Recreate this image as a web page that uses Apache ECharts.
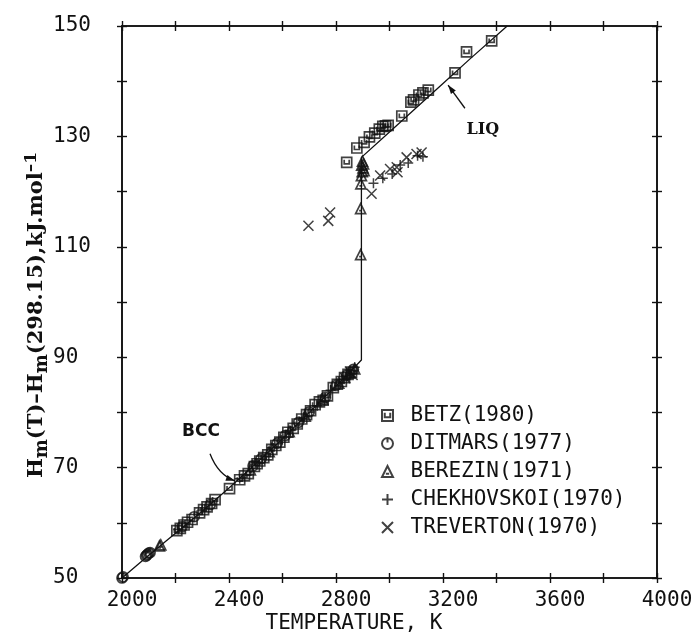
<!DOCTYPE html>
<html>
<head>
<meta charset="utf-8">
<script src="https://cdn.jsdelivr.net/npm/echarts@6/dist/echarts.min.js"></script>
<style>
  html, body { margin: 0; padding: 0; background: #fff; }
  #chart { width: 696px; height: 644px; }
</style>
</head>
<body>
<div id="chart"></div>
<script>
// Enthalpy increment of molybdenum, H(T) - H(298.15), kJ/mol, versus temperature (K)

const xTickLabels = [2000, 2400, 2800, 3200, 3600, 4000];
const yTickLabels = [50, 70, 90, 110, 130, 150];

// Assessed curve: bcc solid, melting step, liquid
const assessedCurve = [
  [2000, 50.0], [2100, 54.1], [2200, 58.1], [2300, 62.1], [2400, 66.3],
  [2500, 70.7], [2600, 75.2], [2700, 80.0], [2800, 84.8], [2850, 87.2],
  [2895, 89.5], [2895, 126.2], [3000, 130.8], [3100, 135.2], [3200, 139.6],
  [3300, 144.0], [3440, 150.0]
];

const betzData = [
  [2205, 58.6], [2218, 59.0], [2232, 59.6], [2245, 60.1], [2262, 60.6],
  [2290, 61.8], [2305, 62.4], [2318, 62.9], [2335, 63.5], [2348, 64.2],
  [2402, 66.2], [2440, 67.8], [2458, 68.5], [2472, 68.9], [2495, 70.2],
  [2505, 70.7], [2515, 71.2], [2530, 71.8], [2545, 72.3], [2560, 73.3],
  [2575, 74.0], [2590, 74.6], [2605, 75.5], [2620, 76.4], [2640, 77.1],
  [2655, 77.9], [2672, 78.8], [2690, 79.6], [2705, 80.3], [2722, 81.4],
  [2738, 81.9], [2752, 82.2], [2768, 83.0], [2790, 84.5], [2805, 85.1],
  [2820, 85.6], [2832, 86.3], [2845, 86.9], [2858, 87.3],
  [2840, 125.3], [2878, 127.9], [2905, 128.9], [2925, 129.9], [2945, 130.6],
  [2962, 131.3], [2975, 131.8], [2985, 131.9], [2995, 132.0], [3046, 133.7],
  [3080, 136.2], [3090, 136.6], [3110, 137.5], [3125, 137.9], [3145, 138.4],
  [3245, 141.5], [3288, 145.3], [3382, 147.3]
];

const ditmarsData = [
  [1998, 49.9], [2000, 50.0], [2004, 50.2], [2088, 53.9], [2092, 54.1],
  [2095, 54.3], [2100, 54.5], [2105, 54.6], [2225, 59.3], [2270, 61.1],
  [2330, 63.3], [2490, 70.3], [2520, 71.6], [2580, 74.4], [2610, 75.8],
  [2660, 78.2], [2700, 80.1], [2760, 82.7], [2800, 84.9], [2840, 86.7],
  [2865, 87.8]
];

const berezinData = [
  [2140, 55.8], [2145, 56.0], [2480, 69.6], [2550, 72.9], [2625, 76.5],
  [2685, 79.3], [2750, 82.4], [2810, 85.3], [2850, 87.1], [2870, 87.9],
  [2892, 108.6], [2892, 116.9], [2893, 121.4], [2895, 122.9], [2898, 123.6],
  [2901, 124.3], [2903, 125.0], [2896, 124.8], [2905, 123.8], [2899, 125.5]
];

const chekhovskoiData = [
  [2210, 58.8], [2300, 62.3], [2440, 68.0], [2500, 70.9], [2560, 73.6],
  [2630, 76.7], [2680, 79.0], [2730, 81.2], [2780, 84.0], [2830, 86.0],
  [2855, 87.6], [2870, 88.2], [2940, 121.5], [2975, 122.4], [3010, 123.2],
  [3040, 124.8], [3070, 125.2], [3105, 126.5], [3125, 126.3]
];

const trevertonData = [
  [2697, 113.8], [2771, 114.7], [2778, 116.2], [2933, 119.6], [2965, 122.9],
  [3002, 124.1], [3027, 124.4], [3030, 123.5], [3064, 126.2], [3101, 126.8],
  [3120, 127.1], [2835, 86.2], [2852, 87.4], [2862, 86.8]
];

const seriesNames = ['BETZ(1980)', 'DITMARS(1977)', 'BEREZIN(1971)', 'CHEKHOVSKOI(1970)', 'TREVERTON(1970)'];

const INK = '#111';
const MONO = '"DejaVu Sans Mono", monospace';
const SERIF = '"DejaVu Serif", serif';

const SYM = {
  square: 'path://M0,0H10V10H0Z M2.5,2.5V6.5H7.5V2.5',
  circle: 'path://M5,0A5,5 0 1,1 4.99,0Z M5,0V4',
  triangle: 'path://M5,0L10,10H0Z M3.5,7H6.5',
  plus: 'path://M5,0V10M0,5H10',
  cross: 'path://M0,0L10,10M10,0L0,10'
};

function xAxisDef(position, inside, labels) {
  return {
    type: 'value', position, min: 2000, max: 4000, interval: 200,
    axisLine: { show: true, onZero: false, lineStyle: { color: INK, width: 1.6 } },
    axisTick: { show: true, inside, length: 5, lineStyle: { color: INK, width: 1.4 } },
    axisLabel: {
      show: labels, margin: 12, color: INK, fontFamily: MONO, fontSize: 21,
      padding: [0, 0, 0, 20],
      formatter: v => (xTickLabels.includes(v) ? String(v) : '')
    },
    splitLine: { show: false }
  };
}

function yAxisDef(position, inside, labels) {
  return {
    type: 'value', position, min: 50, max: 150, interval: 10,
    axisLine: { show: true, onZero: false, lineStyle: { color: INK, width: 1.6 } },
    axisTick: { show: true, inside, length: 5, lineStyle: { color: INK, width: 1.4 } },
    axisLabel: {
      show: labels, margin: 69, align: 'left', color: INK, fontFamily: MONO, fontSize: 21,
      padding: [0, 0, 8, 0],
      formatter: v => (yTickLabels.includes(v) ? String(v) : '')
    },
    splitLine: { show: false }
  };
}

function scatterSeries(name, data, symbol, size, width) {
  return {
    type: 'scatter', name, data, symbol, symbolSize: size,
    itemStyle: { color: 'rgba(0,0,0,0)', borderColor: INK, borderWidth: width },
    xAxisIndex: 0, yAxisIndex: 0, z: 3, silent: true
  };
}

const chart = echarts.init(document.getElementById('chart'));

chart.setOption({
  animation: false,
  backgroundColor: '#fff',
  grid: { left: 122, right: 39, top: 26, bottom: 66 },
  xAxis: [
    xAxisDef('bottom', false, true),
    xAxisDef('bottom', true, false),
    xAxisDef('top', false, false),
    xAxisDef('top', true, false)
  ],
  yAxis: [
    yAxisDef('left', false, true),
    yAxisDef('left', true, false),
    yAxisDef('right', false, false),
    yAxisDef('right', true, false)
  ],
  legend: {
    orient: 'vertical', left: 376, top: 400,
    itemWidth: 12, itemHeight: 11, itemGap: 7,
    textStyle: { fontFamily: MONO, fontSize: 21, color: INK, lineHeight: 21, padding: [0, 0, 0, 12] },
    data: seriesNames
  },
  series: [
    {
      type: 'line', data: assessedCurve, symbol: 'none', silent: true,
      lineStyle: { color: INK, width: 1.3 }, z: 2
    },
    scatterSeries(seriesNames[0], betzData, SYM.square, 10, 1.7),
    scatterSeries(seriesNames[1], ditmarsData, SYM.circle, 10, 1.7),
    scatterSeries(seriesNames[2], berezinData, SYM.triangle, 10, 1.7),
    scatterSeries(seriesNames[3], chekhovskoiData, SYM.plus, 10, 1.5),
    scatterSeries(seriesNames[4], trevertonData, SYM.cross, 10, 1.5)
  ]
});

// Labels and pointer arrows, positioned in data space
const px = p => chart.convertToPixel({ gridIndex: 0 }, p);

function arrowHead(tip, from, len, half) {
  const dx = tip[0] - from[0], dy = tip[1] - from[1];
  const d = Math.hypot(dx, dy) || 1;
  const ux = dx / d, uy = dy / d;
  const bx = tip[0] - ux * len, by = tip[1] - uy * len;
  return {
    type: 'polygon', silent: true, z: 10,
    shape: { points: [tip, [bx - uy * half, by + ux * half], [bx + uy * half, by - ux * half]] },
    style: { fill: INK }
  };
}

const liqTail = px([3282, 135.1]), liqTip = px([3219, 139.3]);
const bccTail = px([2329, 72.5]), bccTip = px([2422, 67.6]);
const bccCtrl = [bccTail[0] + 8, bccTip[1] - 6];
const liqText = px([3349, 131.1]);
const bccText = px([2295, 76.5]);

chart.setOption({
  graphic: [
    {
      type: 'text', silent: true, x: 37, y: 315, rotation: Math.PI / 2,
      style: {
        text: '{a|H}{s|m}{a|(T)–H}{s|m}{a|(298.15),kJ.mol}{p|–1}',
        align: 'center', verticalAlign: 'middle', fill: INK,
        rich: {
          a: { fontFamily: SERIF, fontWeight: 'bold', fontSize: 21, lineHeight: 28, fill: INK },
          s: { fontFamily: SERIF, fontWeight: 'bold', fontSize: 18, lineHeight: 18, verticalAlign: 'bottom', fill: INK },
          p: { fontFamily: SERIF, fontWeight: 'bold', fontSize: 17, lineHeight: 17, verticalAlign: 'top', fill: INK }
        }
      }
    },
    {
      type: 'text', silent: true, x: 354, y: 624,
      style: { text: 'TEMPERATURE, K', align: 'center', verticalAlign: 'middle', fill: INK, font: '21px ' + MONO }
    },
    {
      type: 'text', silent: true, x: liqText[0], y: liqText[1],
      style: { text: 'LIQ', align: 'center', verticalAlign: 'middle', fill: INK, font: 'bold 16px ' + SERIF }
    },
    {
      type: 'text', silent: true, x: bccText[0], y: bccText[1],
      style: { text: 'BCC', align: 'center', verticalAlign: 'middle', fill: INK, font: 'bold 17px "DejaVu Sans", sans-serif' }
    },
    {
      type: 'line', silent: true, z: 10,
      shape: { x1: liqTail[0], y1: liqTail[1], x2: liqTip[0], y2: liqTip[1] },
      style: { stroke: INK, lineWidth: 1.3 }
    },
    arrowHead(liqTip, liqTail, 9, 3),
    {
      type: 'bezierCurve', silent: true, z: 10,
      shape: { x1: bccTail[0], y1: bccTail[1], x2: bccTip[0], y2: bccTip[1], cpx1: bccCtrl[0], cpy1: bccCtrl[1] },
      style: { stroke: INK, lineWidth: 1.3, fill: null }
    },
    arrowHead(bccTip, bccCtrl, 9, 3)
  ]
});
</script>
</body>
</html>
